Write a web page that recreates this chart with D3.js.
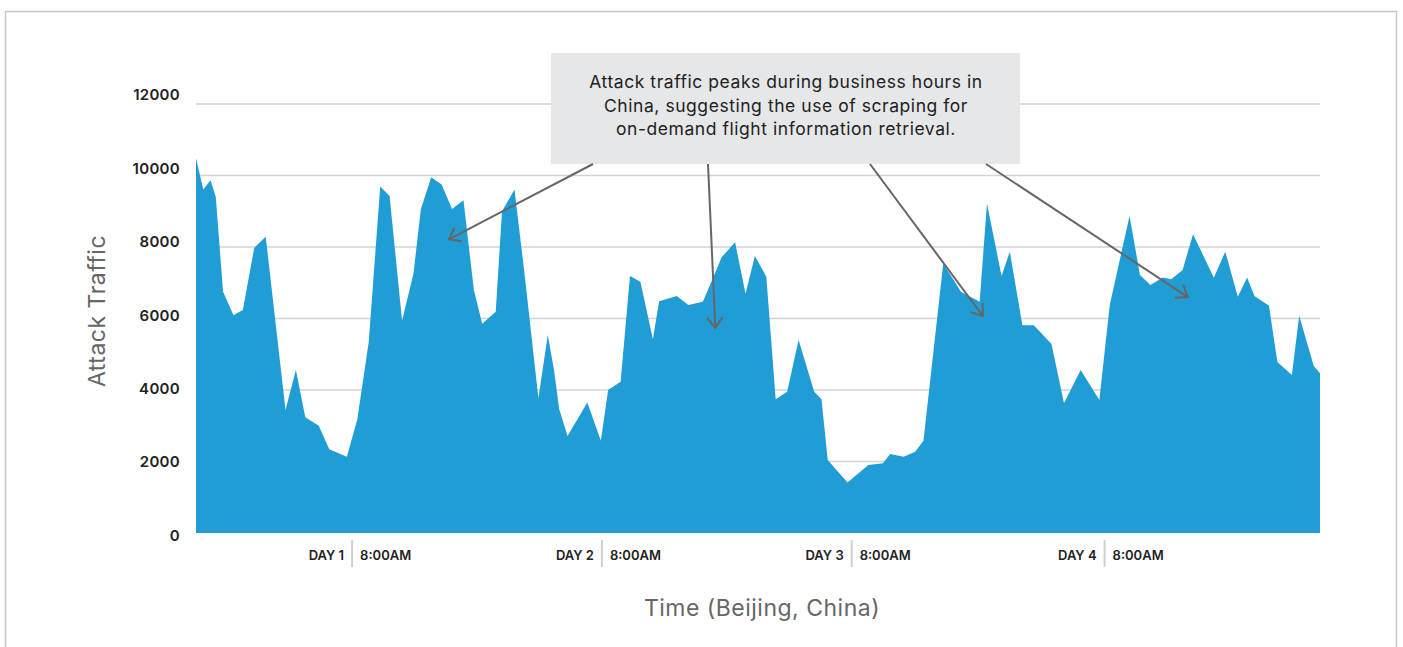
<!DOCTYPE html>
<html lang="en">
<head>
<meta charset="UTF-8">
<title>Attack Traffic</title>
<style>
  html, body { margin: 0; padding: 0; background: #fff; }
  svg { display: block; font-family: Inter, "Open Sans", sans-serif; }
  .grid line { stroke: #d3d3d3; stroke-width: 1.5; }
  .ytick { font-size: 15px; font-weight: 600; fill: #222; letter-spacing: 0.3px; }
  .xtick { font-size: 13px; font-weight: 600; fill: #222; }
  .axis-title { font-size: 23px; fill: #666; letter-spacing: 0.5px; }
  .note { font-size: 17.5px; fill: #222; letter-spacing: 0.55px; }
</style>
</head>
<body>
<div id="chart"></div>
<script src="https://cdnjs.cloudflare.com/ajax/libs/d3/7.8.5/d3.min.js"></script>
<script>
// hours since start of series
const hours = [0, 0.7, 1.4, 1.9, 2.6, 3.6, 4.5, 5.6, 6.7, 8.6, 9.6, 10.5, 11.8, 12.8, 14.5,
  15.5, 16.6, 17.7, 18.6, 19.8, 20.9, 21.6, 22.6, 23.6, 24.6, 25.7, 26.7, 27.5, 28.8, 29.4,
  30.6, 31.6, 32.9, 33.8, 34.4, 34.9, 35.7, 37.6, 38.9, 39.6, 40.8, 41.7, 42.7, 43.9, 44.5,
  46.2, 47.3, 48.7, 49.8, 50.5, 51.8, 52.8, 53.7, 54.8, 55.7, 56.8, 57.9, 59.4, 60.1, 60.7,
  62.6, 64.6, 66.0, 66.7, 68.0, 69.1, 69.9, 71.8, 73.5, 74.4, 75.3, 76.0, 77.4, 78.2, 79.4,
  80.5, 82.2, 83.4, 85.0, 86.8, 87.8, 89.7, 90.7, 91.7, 92.9, 93.7, 94.8, 95.8, 97.8, 98.9,
  100.1, 101.0, 101.7, 103.1, 103.9, 105.3, 106.0, 107.4, 108];

const traffic = [10480, 9610, 9870, 9400, 6750, 6090, 6240, 7980, 8290, 3440, 4560, 3240, 3000, 2340, 2130,
  3180, 5350, 9690, 9430, 5940, 7260, 9050, 9950, 9750, 9060, 9310, 6800, 5850, 6190, 8990,
  9610, 7170, 3770, 5540, 4560, 3460, 2710, 3650, 2580, 4000, 4230, 7190, 7030, 5420, 6480,
  6630, 6380, 6470, 7220, 7710, 8130, 6690, 7750, 7170, 3740, 3950, 5400, 3950, 3740, 2040,
  1410, 1900, 1950, 2210, 2130, 2270, 2580, 7540, 6750, 6610, 6470, 9220, 7190, 7870, 5810,
  5810, 5290, 3630, 4560, 3720, 6380, 8870, 7220, 6940, 7150, 7100, 7360, 8360, 7140, 7870,
  6610, 7150, 6630, 6360, 4780, 4420, 6080, 4670, 4470];

const yTicks = [0, 2000, 4000, 6000, 8000, 10000, 12000];
const dayLabels = ["DAY 1", "DAY 2", "DAY 3", "DAY 4"];
const dayHours = [15, 39, 63, 87.3];
const timeLabel = "8:00AM";

const noteLines = ["Attack traffic peaks during business hours in",
  "China, suggesting the use of scraping for",
  "on-demand flight information retrieval."];
// arrow targets [hour, traffic] and start x on the note box
const arrowTargets = [[24.3, 8215], [49.9, 5734], [75.6, 6070], [95.3, 6600]];
const arrowStartX = [593, 708, 870, 986];

const width = 1403, height = 647;
const svg = d3.select("#chart").append("svg")
  .attr("width", width).attr("height", height);

// outer frame
svg.append("rect")
  .attr("x", 5.5).attr("y", 11.5).attr("width", 1391).attr("height", 700)
  .attr("fill", "none").attr("stroke", "#c8c8c8").attr("stroke-width", 1.5);

const x = d3.scaleLinear().domain([0, 108]).range([196, 1320]);
const y = d3.scaleLinear().domain([0, 12000]).range([533, 104]);
// tick labels are spaced a little wider than the grid in the original
const yLab = d3.scaleLinear().domain([0, 12000]).range([535.5, 95]);

svg.append("g").attr("class", "grid")
  .selectAll("line").data(yTicks.filter(d => d > 0)).join("line")
  .attr("x1", 196).attr("x2", 1320)
  .attr("y1", d => y(d)).attr("y2", d => y(d));

svg.append("g").selectAll("text").data(yTicks).join("text")
  .attr("class", "ytick")
  .attr("x", 180).attr("y", d => yLab(d))
  .attr("text-anchor", "end").attr("dy", "0.35em")
  .text(d => d);

const pts = hours.map((h, i) => [h, traffic[i]]);
const area = d3.area().x(d => x(d[0])).y0(y(0)).y1(d => y(d[1]));
svg.append("path").datum(pts)
  .attr("d", area).attr("fill", "#209dd5");

// day markers
const dm = svg.append("g");
dm.selectAll("line").data(dayHours).join("line")
  .attr("x1", d => x(d)).attr("x2", d => x(d))
  .attr("y1", 540).attr("y2", 567)
  .attr("stroke", "#cfcfcf").attr("stroke-width", 2);
dm.selectAll("text.day").data(dayHours).join("text")
  .attr("class", "xtick day")
  .attr("x", d => x(d) - 8).attr("y", 560)
  .attr("text-anchor", "end")
  .text((d, i) => dayLabels[i]);
dm.selectAll("text.hour").data(dayHours).join("text")
  .attr("class", "xtick hour")
  .attr("x", d => x(d) + 8).attr("y", 560)
  .text(timeLabel);

// axis titles
svg.append("text").attr("class", "axis-title")
  .attr("transform", "translate(105,311) rotate(-90)")
  .attr("text-anchor", "middle").text("Attack Traffic");
svg.append("text").attr("class", "axis-title")
  .attr("x", 762).attr("y", 616)
  .attr("text-anchor", "middle").text("Time (Beijing, China)");

// annotation
const boxTop = 53, boxBottom = 164;
svg.append("rect")
  .attr("x", 551).attr("y", boxTop).attr("width", 469).attr("height", boxBottom - boxTop)
  .attr("fill", "#e6e7e9");
svg.append("text").attr("class", "note")
  .attr("text-anchor", "middle")
  .selectAll("tspan").data(noteLines).join("tspan")
  .attr("x", 786).attr("y", (d, i) => 88 + i * 23.5)
  .text(d => d);

const ag = svg.append("g").attr("stroke", "#666").attr("stroke-width", 2)
  .attr("fill", "none").attr("stroke-linecap", "butt");
arrowTargets.forEach((t, i) => {
  const x0 = arrowStartX[i], y0 = boxBottom;
  const x1 = x(t[0]), y1 = y(t[1]);
  ag.append("line").attr("x1", x0).attr("y1", y0).attr("x2", x1).attr("y2", y1);
  const ang = Math.atan2(y1 - y0, x1 - x0);
  const len = 13, spread = Math.PI / 5;
  const p = [
    [x1 - len * Math.cos(ang - spread), y1 - len * Math.sin(ang - spread)],
    [x1, y1],
    [x1 - len * Math.cos(ang + spread), y1 - len * Math.sin(ang + spread)]
  ];
  ag.append("path").attr("d", d3.line()(p));
});
</script>
</body>
</html>
